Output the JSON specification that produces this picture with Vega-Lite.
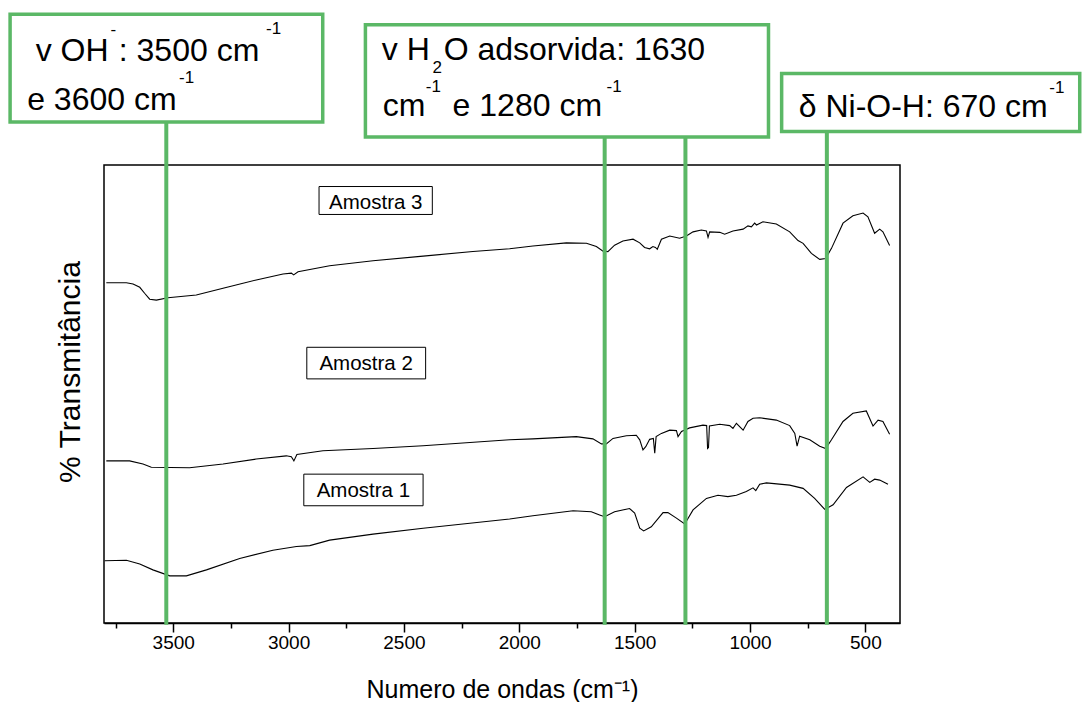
{
  "$schema": "https://vega.github.io/schema/vega-lite/v6.json",
  "width": 796,
  "height": 458,
  "autosize": "none",
  "padding": {"left": 104, "top": 165, "right": 182, "bottom": 79},
  "background": "white",
  "config": {
    "view": {"stroke": "black", "strokeWidth": 1.5},
    "font": "Liberation Sans",
    "axis": {"grid": false}
  },
  "datasets": {
    "espectros": [
      {"amostra": "Amostra 3", "onda": 3790, "t": 74.3},
      {"amostra": "Amostra 3", "onda": 3703, "t": 74.3},
      {"amostra": "Amostra 3", "onda": 3674, "t": 74.0},
      {"amostra": "Amostra 3", "onda": 3645, "t": 73.3},
      {"amostra": "Amostra 3", "onda": 3624, "t": 72.0},
      {"amostra": "Amostra 3", "onda": 3602, "t": 70.7},
      {"amostra": "Amostra 3", "onda": 3573, "t": 70.5},
      {"amostra": "Amostra 3", "onda": 3523, "t": 71.0},
      {"amostra": "Amostra 3", "onda": 3400, "t": 71.6},
      {"amostra": "Amostra 3", "onda": 3284, "t": 73.1},
      {"amostra": "Amostra 3", "onda": 3140, "t": 74.9},
      {"amostra": "Amostra 3", "onda": 3024, "t": 76.2},
      {"amostra": "Amostra 3", "onda": 2988, "t": 76.4},
      {"amostra": "Amostra 3", "onda": 2978, "t": 76.0},
      {"amostra": "Amostra 3", "onda": 2959, "t": 76.7},
      {"amostra": "Amostra 3", "onda": 2822, "t": 78.0},
      {"amostra": "Amostra 3", "onda": 2634, "t": 79.1},
      {"amostra": "Amostra 3", "onda": 2417, "t": 80.1},
      {"amostra": "Amostra 3", "onda": 2201, "t": 81.1},
      {"amostra": "Amostra 3", "onda": 2042, "t": 81.7},
      {"amostra": "Amostra 3", "onda": 1941, "t": 82.3},
      {"amostra": "Amostra 3", "onda": 1796, "t": 83.0},
      {"amostra": "Amostra 3", "onda": 1709, "t": 82.9},
      {"amostra": "Amostra 3", "onda": 1666, "t": 82.2},
      {"amostra": "Amostra 3", "onda": 1637, "t": 81.2},
      {"amostra": "Amostra 3", "onda": 1616, "t": 81.1},
      {"amostra": "Amostra 3", "onda": 1587, "t": 82.5},
      {"amostra": "Amostra 3", "onda": 1551, "t": 83.4},
      {"amostra": "Amostra 3", "onda": 1507, "t": 83.8},
      {"amostra": "Amostra 3", "onda": 1478, "t": 83.0},
      {"amostra": "Amostra 3", "onda": 1457, "t": 82.0},
      {"amostra": "Amostra 3", "onda": 1435, "t": 81.7},
      {"amostra": "Amostra 3", "onda": 1421, "t": 82.2},
      {"amostra": "Amostra 3", "onda": 1410, "t": 82.0},
      {"amostra": "Amostra 3", "onda": 1402, "t": 81.6},
      {"amostra": "Amostra 3", "onda": 1384, "t": 83.8},
      {"amostra": "Amostra 3", "onda": 1348, "t": 84.5},
      {"amostra": "Amostra 3", "onda": 1305, "t": 84.0},
      {"amostra": "Amostra 3", "onda": 1276, "t": 84.5},
      {"amostra": "Amostra 3", "onda": 1247, "t": 85.4},
      {"amostra": "Amostra 3", "onda": 1211, "t": 85.8},
      {"amostra": "Amostra 3", "onda": 1189, "t": 85.6},
      {"amostra": "Amostra 3", "onda": 1182, "t": 84.2},
      {"amostra": "Amostra 3", "onda": 1175, "t": 85.4},
      {"amostra": "Amostra 3", "onda": 1131, "t": 85.3},
      {"amostra": "Amostra 3", "onda": 1110, "t": 84.9},
      {"amostra": "Amostra 3", "onda": 1074, "t": 85.6},
      {"amostra": "Amostra 3", "onda": 1030, "t": 86.0},
      {"amostra": "Amostra 3", "onda": 1009, "t": 86.7},
      {"amostra": "Amostra 3", "onda": 994, "t": 86.5},
      {"amostra": "Amostra 3", "onda": 980, "t": 87.3},
      {"amostra": "Amostra 3", "onda": 972, "t": 86.9},
      {"amostra": "Amostra 3", "onda": 944, "t": 87.6},
      {"amostra": "Amostra 3", "onda": 886, "t": 87.1},
      {"amostra": "Amostra 3", "onda": 828, "t": 85.4},
      {"amostra": "Amostra 3", "onda": 792, "t": 83.5},
      {"amostra": "Amostra 3", "onda": 770, "t": 82.9},
      {"amostra": "Amostra 3", "onda": 734, "t": 80.7},
      {"amostra": "Amostra 3", "onda": 698, "t": 79.4},
      {"amostra": "Amostra 3", "onda": 672, "t": 79.6},
      {"amostra": "Amostra 3", "onda": 647, "t": 81.8},
      {"amostra": "Amostra 3", "onda": 597, "t": 87.3},
      {"amostra": "Amostra 3", "onda": 554, "t": 88.9},
      {"amostra": "Amostra 3", "onda": 510, "t": 89.5},
      {"amostra": "Amostra 3", "onda": 489, "t": 88.7},
      {"amostra": "Amostra 3", "onda": 460, "t": 85.1},
      {"amostra": "Amostra 3", "onda": 438, "t": 86.0},
      {"amostra": "Amostra 3", "onda": 424, "t": 85.4},
      {"amostra": "Amostra 3", "onda": 395, "t": 82.4},

      {"amostra": "Amostra 2", "onda": 3790, "t": 35.4},
      {"amostra": "Amostra 2", "onda": 3689, "t": 35.4},
      {"amostra": "Amostra 2", "onda": 3631, "t": 34.7},
      {"amostra": "Amostra 2", "onda": 3595, "t": 34.0},
      {"amostra": "Amostra 2", "onda": 3429, "t": 33.9},
      {"amostra": "Amostra 2", "onda": 3284, "t": 34.7},
      {"amostra": "Amostra 2", "onda": 3140, "t": 35.8},
      {"amostra": "Amostra 2", "onda": 3010, "t": 36.5},
      {"amostra": "Amostra 2", "onda": 2988, "t": 36.3},
      {"amostra": "Amostra 2", "onda": 2977, "t": 35.4},
      {"amostra": "Amostra 2", "onda": 2964, "t": 36.8},
      {"amostra": "Amostra 2", "onda": 2851, "t": 37.6},
      {"amostra": "Amostra 2", "onda": 2634, "t": 38.1},
      {"amostra": "Amostra 2", "onda": 2417, "t": 38.7},
      {"amostra": "Amostra 2", "onda": 2042, "t": 40.0},
      {"amostra": "Amostra 2", "onda": 1941, "t": 40.2},
      {"amostra": "Amostra 2", "onda": 1753, "t": 40.7},
      {"amostra": "Amostra 2", "onda": 1681, "t": 40.2},
      {"amostra": "Amostra 2", "onda": 1644, "t": 39.1},
      {"amostra": "Amostra 2", "onda": 1623, "t": 39.1},
      {"amostra": "Amostra 2", "onda": 1594, "t": 40.3},
      {"amostra": "Amostra 2", "onda": 1536, "t": 40.9},
      {"amostra": "Amostra 2", "onda": 1493, "t": 41.0},
      {"amostra": "Amostra 2", "onda": 1478, "t": 40.0},
      {"amostra": "Amostra 2", "onda": 1464, "t": 37.8},
      {"amostra": "Amostra 2", "onda": 1452, "t": 38.5},
      {"amostra": "Amostra 2", "onda": 1435, "t": 40.1},
      {"amostra": "Amostra 2", "onda": 1419, "t": 40.3},
      {"amostra": "Amostra 2", "onda": 1413, "t": 37.1},
      {"amostra": "Amostra 2", "onda": 1407, "t": 40.7},
      {"amostra": "Amostra 2", "onda": 1384, "t": 41.4},
      {"amostra": "Amostra 2", "onda": 1348, "t": 42.1},
      {"amostra": "Amostra 2", "onda": 1319, "t": 42.0},
      {"amostra": "Amostra 2", "onda": 1312, "t": 40.7},
      {"amostra": "Amostra 2", "onda": 1297, "t": 41.8},
      {"amostra": "Amostra 2", "onda": 1262, "t": 42.6},
      {"amostra": "Amostra 2", "onda": 1204, "t": 43.2},
      {"amostra": "Amostra 2", "onda": 1188, "t": 43.1},
      {"amostra": "Amostra 2", "onda": 1184, "t": 38.1},
      {"amostra": "Amostra 2", "onda": 1180, "t": 38.3},
      {"amostra": "Amostra 2", "onda": 1176, "t": 43.0},
      {"amostra": "Amostra 2", "onda": 1131, "t": 43.4},
      {"amostra": "Amostra 2", "onda": 1088, "t": 43.1},
      {"amostra": "Amostra 2", "onda": 1074, "t": 42.5},
      {"amostra": "Amostra 2", "onda": 1059, "t": 43.6},
      {"amostra": "Amostra 2", "onda": 1030, "t": 42.1},
      {"amostra": "Amostra 2", "onda": 1009, "t": 44.0},
      {"amostra": "Amostra 2", "onda": 987, "t": 44.7},
      {"amostra": "Amostra 2", "onda": 958, "t": 44.8},
      {"amostra": "Amostra 2", "onda": 886, "t": 44.3},
      {"amostra": "Amostra 2", "onda": 828, "t": 43.1},
      {"amostra": "Amostra 2", "onda": 806, "t": 41.4},
      {"amostra": "Amostra 2", "onda": 796, "t": 38.6},
      {"amostra": "Amostra 2", "onda": 785, "t": 40.8},
      {"amostra": "Amostra 2", "onda": 741, "t": 40.0},
      {"amostra": "Amostra 2", "onda": 698, "t": 38.6},
      {"amostra": "Amostra 2", "onda": 672, "t": 38.1},
      {"amostra": "Amostra 2", "onda": 647, "t": 40.0},
      {"amostra": "Amostra 2", "onda": 597, "t": 44.0},
      {"amostra": "Amostra 2", "onda": 554, "t": 45.8},
      {"amostra": "Amostra 2", "onda": 496, "t": 46.3},
      {"amostra": "Amostra 2", "onda": 467, "t": 43.0},
      {"amostra": "Amostra 2", "onda": 445, "t": 44.3},
      {"amostra": "Amostra 2", "onda": 424, "t": 44.0},
      {"amostra": "Amostra 2", "onda": 395, "t": 41.2},

      {"amostra": "Amostra 1", "onda": 3797, "t": 13.6},
      {"amostra": "Amostra 1", "onda": 3703, "t": 13.7},
      {"amostra": "Amostra 1", "onda": 3645, "t": 12.9},
      {"amostra": "Amostra 1", "onda": 3588, "t": 11.6},
      {"amostra": "Amostra 1", "onda": 3515, "t": 10.3},
      {"amostra": "Amostra 1", "onda": 3443, "t": 10.3},
      {"amostra": "Amostra 1", "onda": 3356, "t": 11.6},
      {"amostra": "Amostra 1", "onda": 3212, "t": 14.1},
      {"amostra": "Amostra 1", "onda": 3068, "t": 15.9},
      {"amostra": "Amostra 1", "onda": 2966, "t": 16.7},
      {"amostra": "Amostra 1", "onda": 2908, "t": 16.9},
      {"amostra": "Amostra 1", "onda": 2822, "t": 18.1},
      {"amostra": "Amostra 1", "onda": 2634, "t": 19.4},
      {"amostra": "Amostra 1", "onda": 2417, "t": 20.7},
      {"amostra": "Amostra 1", "onda": 2042, "t": 22.7},
      {"amostra": "Amostra 1", "onda": 1941, "t": 23.4},
      {"amostra": "Amostra 1", "onda": 1767, "t": 24.5},
      {"amostra": "Amostra 1", "onda": 1688, "t": 24.3},
      {"amostra": "Amostra 1", "onda": 1652, "t": 23.6},
      {"amostra": "Amostra 1", "onda": 1630, "t": 23.2},
      {"amostra": "Amostra 1", "onda": 1587, "t": 24.3},
      {"amostra": "Amostra 1", "onda": 1522, "t": 25.0},
      {"amostra": "Amostra 1", "onda": 1500, "t": 24.0},
      {"amostra": "Amostra 1", "onda": 1478, "t": 20.7},
      {"amostra": "Amostra 1", "onda": 1461, "t": 20.1},
      {"amostra": "Amostra 1", "onda": 1428, "t": 21.0},
      {"amostra": "Amostra 1", "onda": 1377, "t": 24.1},
      {"amostra": "Amostra 1", "onda": 1356, "t": 24.1},
      {"amostra": "Amostra 1", "onda": 1319, "t": 22.9},
      {"amostra": "Amostra 1", "onda": 1283, "t": 21.6},
      {"amostra": "Amostra 1", "onda": 1247, "t": 24.7},
      {"amostra": "Amostra 1", "onda": 1189, "t": 27.2},
      {"amostra": "Amostra 1", "onda": 1139, "t": 27.9},
      {"amostra": "Amostra 1", "onda": 1096, "t": 27.6},
      {"amostra": "Amostra 1", "onda": 1059, "t": 27.9},
      {"amostra": "Amostra 1", "onda": 1016, "t": 28.7},
      {"amostra": "Amostra 1", "onda": 987, "t": 29.5},
      {"amostra": "Amostra 1", "onda": 975, "t": 28.9},
      {"amostra": "Amostra 1", "onda": 958, "t": 30.3},
      {"amostra": "Amostra 1", "onda": 929, "t": 30.6},
      {"amostra": "Amostra 1", "onda": 828, "t": 30.1},
      {"amostra": "Amostra 1", "onda": 770, "t": 29.4},
      {"amostra": "Amostra 1", "onda": 720, "t": 27.2},
      {"amostra": "Amostra 1", "onda": 676, "t": 24.8},
      {"amostra": "Amostra 1", "onda": 640, "t": 25.8},
      {"amostra": "Amostra 1", "onda": 582, "t": 29.6},
      {"amostra": "Amostra 1", "onda": 510, "t": 31.9},
      {"amostra": "Amostra 1", "onda": 481, "t": 30.7},
      {"amostra": "Amostra 1", "onda": 460, "t": 31.4},
      {"amostra": "Amostra 1", "onda": 438, "t": 31.2},
      {"amostra": "Amostra 1", "onda": 402, "t": 30.3}
    ],
    "linhas": [
      {"onda": 3530, "base": -0.4, "topo": 109.4},
      {"onda": 1630, "base": -0.4, "topo": 106.1},
      {"onda": 1280, "base": -0.4, "topo": 106.1},
      {"onda": 667, "base": -0.4, "topo": 107.3}
    ],
    "caixas": [
      {"grupo": "anotacao", "x1": 4207, "x2": 2852, "y1": 132.9, "y2": 109.4},
      {"grupo": "anotacao", "x1": 2667, "x2": 920, "y1": 130.6, "y2": 106.1},
      {"grupo": "anotacao", "x1": 863, "x2": -429, "y1": 120.0, "y2": 107.3},
      {"grupo": "amostra", "x1": 2868, "x2": 2377, "y1": 95.3, "y2": 89.2},
      {"grupo": "amostra", "x1": 2921, "x2": 2406, "y1": 60.2, "y2": 53.3},
      {"grupo": "amostra", "x1": 2934, "x2": 2417, "y1": 32.5, "y2": 25.6}
    ],
    "textos": [
      {"tipo": "principal", "texto": "v OH", "onda": 4096, "t": 122.7},
      {"tipo": "sobrescrito", "texto": "-", "onda": 3772, "t": 128.4},
      {"tipo": "principal", "texto": ": 3500 cm", "onda": 3736, "t": 122.7},
      {"tipo": "sobrescrito", "texto": "-1", "onda": 3098, "t": 128.5},
      {"tipo": "principal", "texto": "e 3600 cm", "onda": 4133, "t": 112.1},
      {"tipo": "sobrescrito", "texto": "-1", "onda": 3475, "t": 117.9},
      {"tipo": "principal", "texto": "v H", "onda": 2596, "t": 122.9},
      {"tipo": "sobrescrito", "texto": "2", "onda": 2376, "t": 120.1},
      {"tipo": "principal", "texto": "O adsorvida: 1630", "onda": 2328, "t": 122.9},
      {"tipo": "principal", "texto": "cm", "onda": 2592, "t": 110.8},
      {"tipo": "sobrescrito", "texto": "-1", "onda": 2405, "t": 115.9},
      {"tipo": "principal", "texto": "e 1280 cm", "onda": 2289, "t": 110.8},
      {"tipo": "sobrescrito", "texto": "-1", "onda": 1622, "t": 115.9},
      {"tipo": "principal", "texto": "δ Ni-O-H: 670 cm", "onda": 789, "t": 110.4},
      {"tipo": "sobrescrito", "texto": "-1", "onda": -297, "t": 115.7}
    ],
    "rotulos": [
      {"texto": "Amostra 3", "onda": 2622, "t": 90.5},
      {"texto": "Amostra 2", "onda": 2664, "t": 55.2},
      {"texto": "Amostra 1", "onda": 2676, "t": 27.6}
    ],
    "titulo_y": [
      {"texto": "% Transmitância", "onda": 3905, "t": 54.8}
    ]
  },
  "layer": [
    {
      "data": {"name": "espectros"},
      "mark": {"type": "line", "color": "black", "strokeWidth": 1.1},
      "encoding": {
        "x": {
          "field": "onda", "type": "quantitative",
          "scale": {"domain": [350, 3800], "reverse": true, "nice": false, "zero": false},
          "axis": {
            "orient": "bottom",
            "values": [500, 1000, 1500, 2000, 2500, 3000, 3500],
            "format": "d",
            "tickSize": 9, "tickWidth": 1.5, "tickColor": "black",
            "domainColor": "black", "domainWidth": 1.5,
            "labelFontSize": 19, "labelColor": "black", "labelPadding": 1,
            "labelFont": "Liberation Sans",
            "title": "Numero de ondas (cm⁻¹)",
            "titleFont": "Liberation Sans", "titleFontSize": 25,
            "titleFontWeight": "normal", "titleColor": "black",
            "titleY": 74, "titleBaseline": "alphabetic",
            "grid": false, "offset": 0
          }
        },
        "y": {
          "field": "t", "type": "quantitative",
          "scale": {"domain": [0, 100], "nice": false, "zero": false},
          "axis": {
            "title": null,
            "labels": false, "ticks": false,
            "domainColor": "black", "domainWidth": 1.5,
            "grid": false
          }
        },
        "detail": {"field": "amostra"}
      }
    },
    {
      "data": {"name": "linhas"},
      "mark": {"type": "rule", "color": "#5bb866", "strokeWidth": 4},
      "encoding": {
        "x": {
          "field": "onda", "type": "quantitative",
          "scale": {"domain": [350, 3800], "reverse": true, "nice": false, "zero": false},
          "axis": {
            "orient": "bottom",
            "values": [750, 1250, 1750, 2250, 2750, 3250, 3750],
            "tickSize": 5, "tickWidth": 1.5, "tickColor": "black",
            "labels": false, "domain": false, "title": null, "grid": false, "offset": 0
          }
        },
        "y": {"field": "base", "type": "quantitative", "scale": {"domain": [0, 100], "nice": false, "zero": false}, "axis": null},
        "y2": {"field": "topo"}
      }
    },
    {
      "data": {"name": "caixas"},
      "transform": [{"filter": "datum.grupo === 'anotacao'"}],
      "mark": {"type": "rect", "fill": "white", "stroke": "#5bb866", "strokeWidth": 3.5},
      "encoding": {
        "x": {"field": "x1", "type": "quantitative", "scale": {"domain": [350, 3800], "reverse": true, "nice": false, "zero": false}, "axis": null},
        "x2": {"field": "x2"},
        "y": {"field": "y1", "type": "quantitative", "scale": {"domain": [0, 100], "nice": false, "zero": false}, "axis": null},
        "y2": {"field": "y2"}
      }
    },
    {
      "data": {"name": "caixas"},
      "transform": [{"filter": "datum.grupo === 'amostra'"}],
      "mark": {"type": "rect", "fill": "white", "stroke": "black", "strokeWidth": 1},
      "encoding": {
        "x": {"field": "x1", "type": "quantitative", "scale": {"domain": [350, 3800], "reverse": true, "nice": false, "zero": false}, "axis": null},
        "x2": {"field": "x2"},
        "y": {"field": "y1", "type": "quantitative", "scale": {"domain": [0, 100], "nice": false, "zero": false}, "axis": null},
        "y2": {"field": "y2"}
      }
    },
    {
      "data": {"name": "textos"},
      "transform": [{"filter": "datum.tipo === 'principal'"}],
      "mark": {"type": "text", "align": "left", "baseline": "alphabetic", "fontSize": 32, "font": "Liberation Sans", "color": "black"},
      "encoding": {
        "x": {"field": "onda", "type": "quantitative", "scale": {"domain": [350, 3800], "reverse": true, "nice": false, "zero": false}, "axis": null},
        "y": {"field": "t", "type": "quantitative", "scale": {"domain": [0, 100], "nice": false, "zero": false}, "axis": null},
        "text": {"field": "texto"}
      }
    },
    {
      "data": {"name": "textos"},
      "transform": [{"filter": "datum.tipo === 'sobrescrito'"}],
      "mark": {"type": "text", "align": "left", "baseline": "alphabetic", "fontSize": 17, "font": "Liberation Sans", "color": "black"},
      "encoding": {
        "x": {"field": "onda", "type": "quantitative", "scale": {"domain": [350, 3800], "reverse": true, "nice": false, "zero": false}, "axis": null},
        "y": {"field": "t", "type": "quantitative", "scale": {"domain": [0, 100], "nice": false, "zero": false}, "axis": null},
        "text": {"field": "texto"}
      }
    },
    {
      "data": {"name": "rotulos"},
      "mark": {"type": "text", "align": "center", "baseline": "alphabetic", "fontSize": 20.5, "font": "Liberation Sans", "color": "black"},
      "encoding": {
        "x": {"field": "onda", "type": "quantitative", "scale": {"domain": [350, 3800], "reverse": true, "nice": false, "zero": false}, "axis": null},
        "y": {"field": "t", "type": "quantitative", "scale": {"domain": [0, 100], "nice": false, "zero": false}, "axis": null},
        "text": {"field": "texto"}
      }
    },
    {
      "data": {"name": "titulo_y"},
      "mark": {"type": "text", "align": "center", "baseline": "alphabetic", "angle": 270, "fontSize": 30, "font": "Liberation Sans", "color": "black"},
      "encoding": {
        "x": {"field": "onda", "type": "quantitative", "scale": {"domain": [350, 3800], "reverse": true, "nice": false, "zero": false}, "axis": null},
        "y": {"field": "t", "type": "quantitative", "scale": {"domain": [0, 100], "nice": false, "zero": false}, "axis": null},
        "text": {"field": "texto"}
      }
    }
  ],
  "resolve": {"axis": {"x": "independent"}}
}
